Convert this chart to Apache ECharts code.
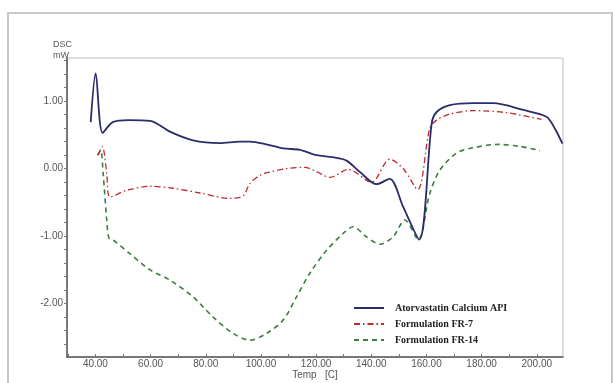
<!DOCTYPE html>
<html>
<head>
<meta charset="utf-8">
<script src="https://cdn.jsdelivr.net/npm/echarts@6/dist/echarts.min.js"></script>
<style>
  html, body { margin: 0; padding: 0; background: #fff; }
  #chart { width: 613px; height: 383px; }
</style>
</head>
<body>
<div id="chart"></div>
<script>
// temperatures (C) and heat flow (mW)
const apiTemp = [38.3, 40.1, 42.6, 46.3, 52, 59.8, 67.0, 75.4, 85.1, 92.3, 96.0, 102, 108.1, 114.1, 120.2, 126, 131.0, 135.9, 141.9, 146.7, 151.6, 157.4, 161.9, 163.7, 168.5, 176.9, 184.2, 195.1, 203.5, 206.5, 209.3];
const apiDsc = [0.69, 1.41, 0.53, 0.69, 0.72, 0.71, 0.55, 0.42, 0.38, 0.40, 0.40, 0.36, 0.30, 0.28, 0.20, 0.17, 0.12, -0.05, -0.23, -0.15, -0.57, -1.05, 0.67, 0.84, 0.94, 0.97, 0.97, 0.87, 0.77, 0.60, 0.37];

const fr7Temp = [41.0, 42.5, 44.1, 45.3, 51.3, 59.8, 68.2, 77.9, 88.7, 93.6, 96.0, 99.6, 103.2, 109, 115.9, 120, 125.0, 131.6, 140.1, 146.7, 151.6, 156.8, 161.2, 163.7, 168.5, 176.9, 189.0, 201.7];
const fr7Dsc = [0.20, 0.33, -0.07, -0.42, -0.32, -0.26, -0.29, -0.36, -0.44, -0.40, -0.22, -0.10, -0.05, 0.0, 0.02, -0.04, -0.13, -0.01, -0.20, 0.14, 0.0, -0.31, 0.60, 0.72, 0.81, 0.86, 0.83, 0.73];

const fr14Temp = [40.7, 41.9, 42.8, 44.1, 44.9, 46.5, 52.5, 59.8, 67.0, 75.4, 82.7, 89.9, 96.0, 102.1, 108.1, 112.9, 117.7, 123.8, 129.8, 133.4, 138.3, 143.1, 147.9, 152.2, 157.0, 161.2, 164.9, 170.9, 176.9, 186.0, 193.9, 201.1];
const fr14Dsc = [0.20, 0.27, -0.07, -0.76, -1.03, -1.06, -1.26, -1.50, -1.65, -1.90, -2.20, -2.44, -2.54, -2.44, -2.24, -1.90, -1.55, -1.21, -0.96, -0.86, -1.01, -1.12, -1.01, -0.76, -1.05, -0.37, -0.02, 0.23, 0.31, 0.36, 0.33, 0.27];

const xLabels = [40, 60, 80, 100, 120, 140, 160, 180, 200];
const xTicks = [30, 40, 50, 60, 70, 80, 90, 100, 110, 120, 130, 140, 150, 160, 170, 180, 190, 200];
const yLabels = [-2, -1, 0, 1];
const yTicks = [-2.6, -2.4, -2.2, -2, -1.8, -1.6, -1.4, -1.2, -1, -0.8, -0.6, -0.4, -0.2, 0, 0.2, 0.4, 0.6, 0.8, 1, 1.2, 1.4, 1.6];

const names = ["Atorvastatin Calcium API", "Formulation FR-7", "Formulation FR-14"];

const zip = (t, v) => t.map((x, i) => [x, v[i]]);

const chart = echarts.init(document.getElementById("chart"));

const axisText = { color: "#555", fontSize: 10, fontFamily: "Liberation Sans, Arial, sans-serif" };

chart.setOption({
  animation: false,
  backgroundColor: "#fff",
  title: {
    text: "DSC\nmW",
    left: 48,
    top: 34,
    textStyle: { color: "#555", fontSize: 9, fontWeight: "normal", lineHeight: 11, fontFamily: "Liberation Sans, Arial, sans-serif" },
  },
  graphic: [
    {
      type: "rect",
      shape: { x: 8, y: 13, width: 604, height: 380 },
      style: { fill: "none", stroke: "#c8c8c8", lineWidth: 2 },
      silent: true,
    },
  ],
  grid: {
    left: 67,
    top: 58,
    right: 50,
    bottom: 26,
    outerBoundsMode: "none",
    show: true,
    borderColor: "#bdbdbd",
    borderWidth: 1,
  },
  legend: {
    orient: "vertical",
    left: 348,
    top: 298,
    itemWidth: 30,
    itemHeight: 10,
    itemGap: 6,
    data: names,
    itemStyle: { opacity: 0 },
    textStyle: {
      color: "#222",
      fontSize: 10,
      fontWeight: "bold",
      fontFamily: "Liberation Serif, Times New Roman, serif",
      padding: [0, 0, 0, 6],
    },
  },
  xAxis: {
    type: "value",
    min: 29.7,
    max: 209.5,
    name: "Temp   [C]",
    nameLocation: "middle",
    nameGap: 13,
    nameMoveOverlap: false,
    nameTextStyle: axisText,
    axisLine: { show: true, onZero: false, lineStyle: { color: "#555", width: 1.5 } },
    axisTick: { show: true, customValues: xTicks, length: 3, inside: true, lineStyle: { color: "#777" } },
    axisLabel: {
      customValues: xLabels,
      formatter: (v) => v.toFixed(2),
      margin: 2,
      ...axisText,
    },
    splitLine: { show: false },
  },
  yAxis: {
    type: "value",
    min: -2.79,
    max: 1.64,
    axisLine: { show: true, onZero: false, lineStyle: { color: "#555", width: 1.5 } },
    axisTick: { show: true, customValues: yTicks, length: 3, lineStyle: { color: "#777" } },
    axisLabel: {
      customValues: yLabels,
      formatter: (v) => v.toFixed(2),
      margin: 4,
      ...axisText,
    },
    splitLine: { show: false },
  },
  series: [
    {
      name: names[0],
      type: "line",
      data: zip(apiTemp, apiDsc),
      symbol: "none",
      smooth: 0.3,
      z: 3,
      lineStyle: { color: "#2a2c6b", width: 1.8 },
      itemStyle: { color: "#2a2c6b" },
    },
    {
      name: names[1],
      type: "line",
      data: zip(fr7Temp, fr7Dsc),
      symbol: "none",
      smooth: 0.3,
      z: 2,
      lineStyle: { color: "#c2282e", width: 1.3, type: [6, 3, 1.5, 3] },
      itemStyle: { color: "#c2282e" },
    },
    {
      name: names[2],
      type: "line",
      data: zip(fr14Temp, fr14Dsc),
      symbol: "none",
      smooth: 0.3,
      z: 1,
      lineStyle: { color: "#3d7d3d", width: 1.6, type: [5, 4] },
      itemStyle: { color: "#3d7d3d" },
    },
  ],
});
</script>
</body>
</html>
